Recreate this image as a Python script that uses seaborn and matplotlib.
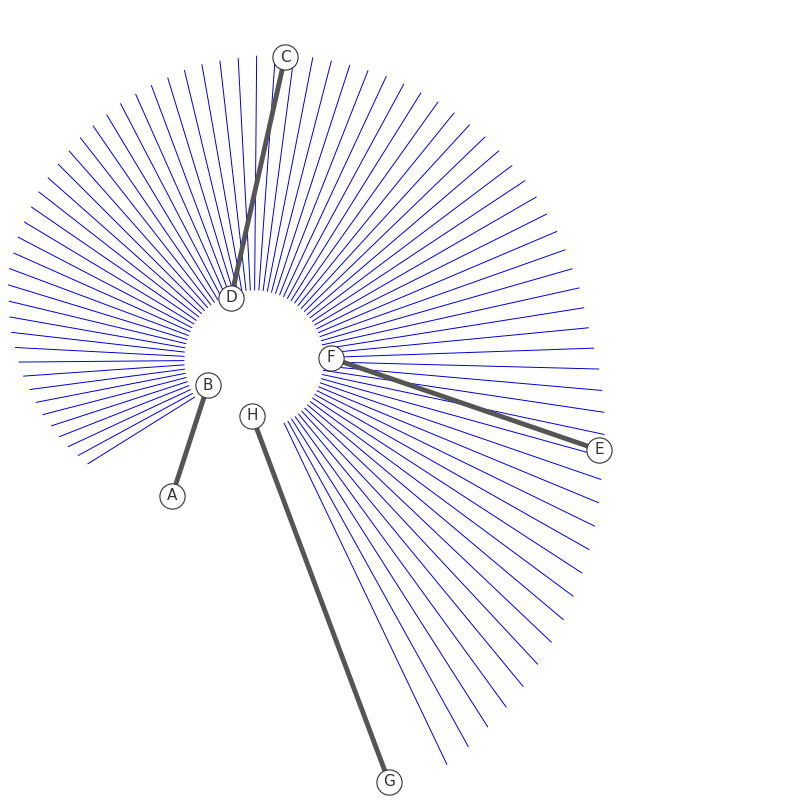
import numpy as np
import matplotlib
matplotlib.use("Agg")
import matplotlib.pyplot as plt
import seaborn as sns

# fan of spokes: angle (deg, counter-clockwise from east) and outer radius (px)
spoke_angles = [212.0, 208.5, 205, 201.5, 198, 194.5, 191, 187.5, 184, 180.5, 177, 173.5, 170, 166.5, 163, 159.5,
                156, 152.5, 149, 145.5, 142, 138.5, 135, 131.5, 128, 124.5, 121, 117.5, 114, 110.5, 107, 103.5,
                100, 96.5, 93, 89.5, 86, 82.5, 79, 75.5, 72, 68.5, 65, 61.5, 58, 54.5, 51, 47.5, 44, 40.5, 37,
                33.5, 30, 26.5, 23, 19.5, 16, 12.5, 9, 5.5, 2, -1.5, -5, -8.5, -12, -15.5, -19, -22.5, -26,
                -29.5, -33, -36.5, -40, -43.5, -47, -50.5, -54, -57.5, -61, -64.5]
spoke_radii = [196, 200, 205, 209, 213, 218, 222, 226, 231, 235, 239, 244, 248, 252, 257, 261,
               263, 266, 268, 270, 273, 275, 277, 279, 282, 284, 286, 289, 291, 293, 295, 298,
               300, 301, 302, 304, 305, 306, 308, 309, 310, 311, 313, 314, 315, 317, 318, 319, 321, 322, 323,
               325, 326, 327, 329, 330, 331, 333, 334, 336, 340, 345, 349, 354, 358, 363, 367, 373, 379,
               385, 391, 397, 404, 410, 416, 423, 429, 435, 442, 448]
center = (254, 360)
inner_r = 70

nodes = ["A", "B", "C", "D", "E", "F", "G", "H"]
node_x = [172, 208, 285, 231, 599, 331, 389, 252]
node_y = [496, 385, 57, 298, 450, 358, 782, 416]
edges = [("A", "B"), ("C", "D"), ("E", "F"), ("G", "H")]

sns.set_style("white")
fig = plt.figure(figsize=(8, 8), dpi=100)
ax = fig.add_axes([0, 0, 1, 1])

for a, r in zip(spoke_angles, spoke_radii):
    t = np.radians(a)
    xs = [center[0] + inner_r * np.cos(t), center[0] + r * np.cos(t)]
    ys = [center[1] - inner_r * np.sin(t), center[1] - r * np.sin(t)]
    ax.plot(xs, ys, color="#0000cc", lw=0.7, zorder=1)

pos = dict(zip(nodes, zip(node_x, node_y)))
for u, v in edges:
    ax.plot([pos[u][0], pos[v][0]], [pos[u][1], pos[v][1]], color="#555555", lw=3.5, zorder=2)

sns.scatterplot(x=node_x, y=node_y, s=330, color="white", edgecolor="#333333", linewidth=0.8, zorder=3, ax=ax)
for n, x, y in zip(nodes, node_x, node_y):
    ax.text(x, y, n, ha="center", va="center", fontsize=11, color="#333333", zorder=4)

ax.set_xlim(0, 800)
ax.set_ylim(800, 0)
ax.axis("off")
fig.savefig("out.png", dpi=100)
